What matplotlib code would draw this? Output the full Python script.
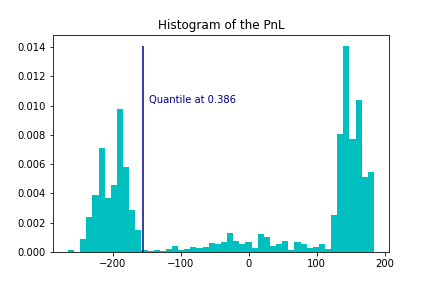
import numpy as np
import matplotlib
matplotlib.use("Agg")
import matplotlib.pyplot as plt

# histogram of PnL, 50 bins, density heights
pnl_min = -265.7
pnl_max = 184.0
n_bins = 50
density = [
    0.00014, 0.0, 0.00089, 0.0024, 0.0039, 0.0071, 0.0037, 0.0046, 0.0098, 0.0058,
    0.0029, 0.0015, 0.00014, 0.00007, 0.00014, 0.00007, 0.0002, 0.0004, 0.00014, 0.0002,
    0.00034, 0.00027, 0.00034, 0.0006, 0.00055, 0.00068, 0.0013, 0.00075, 0.00055, 0.00068,
    0.00027, 0.0012, 0.001, 0.0004, 0.00055, 0.00075, 0.00014, 0.00068, 0.00055, 0.00027,
    0.00034, 0.00055, 0.0002, 0.0025, 0.0081, 0.0141, 0.0077, 0.0104, 0.0051, 0.0055,
]
quantile_x = -156.0
quantile_label = "Quantile at 0.386"

edges = np.linspace(pnl_min, pnl_max, n_bins + 1)

fig = plt.figure(figsize=(6, 4), dpi=72)
ax = fig.add_subplot(111)
fig.subplots_adjust(left=0.122, right=0.901, top=0.877, bottom=0.125)

ax.hist(edges[:-1], bins=edges, weights=density, color="c")
ax.vlines(quantile_x, 0, 0.0141, colors="darkblue", alpha=0.75, linewidth=2)
ax.text(quantile_x + 10, 0.0102, quantile_label, color="darkblue")
ax.set_title("Histogram of the PnL")

fig.savefig("out.png", dpi=72)
